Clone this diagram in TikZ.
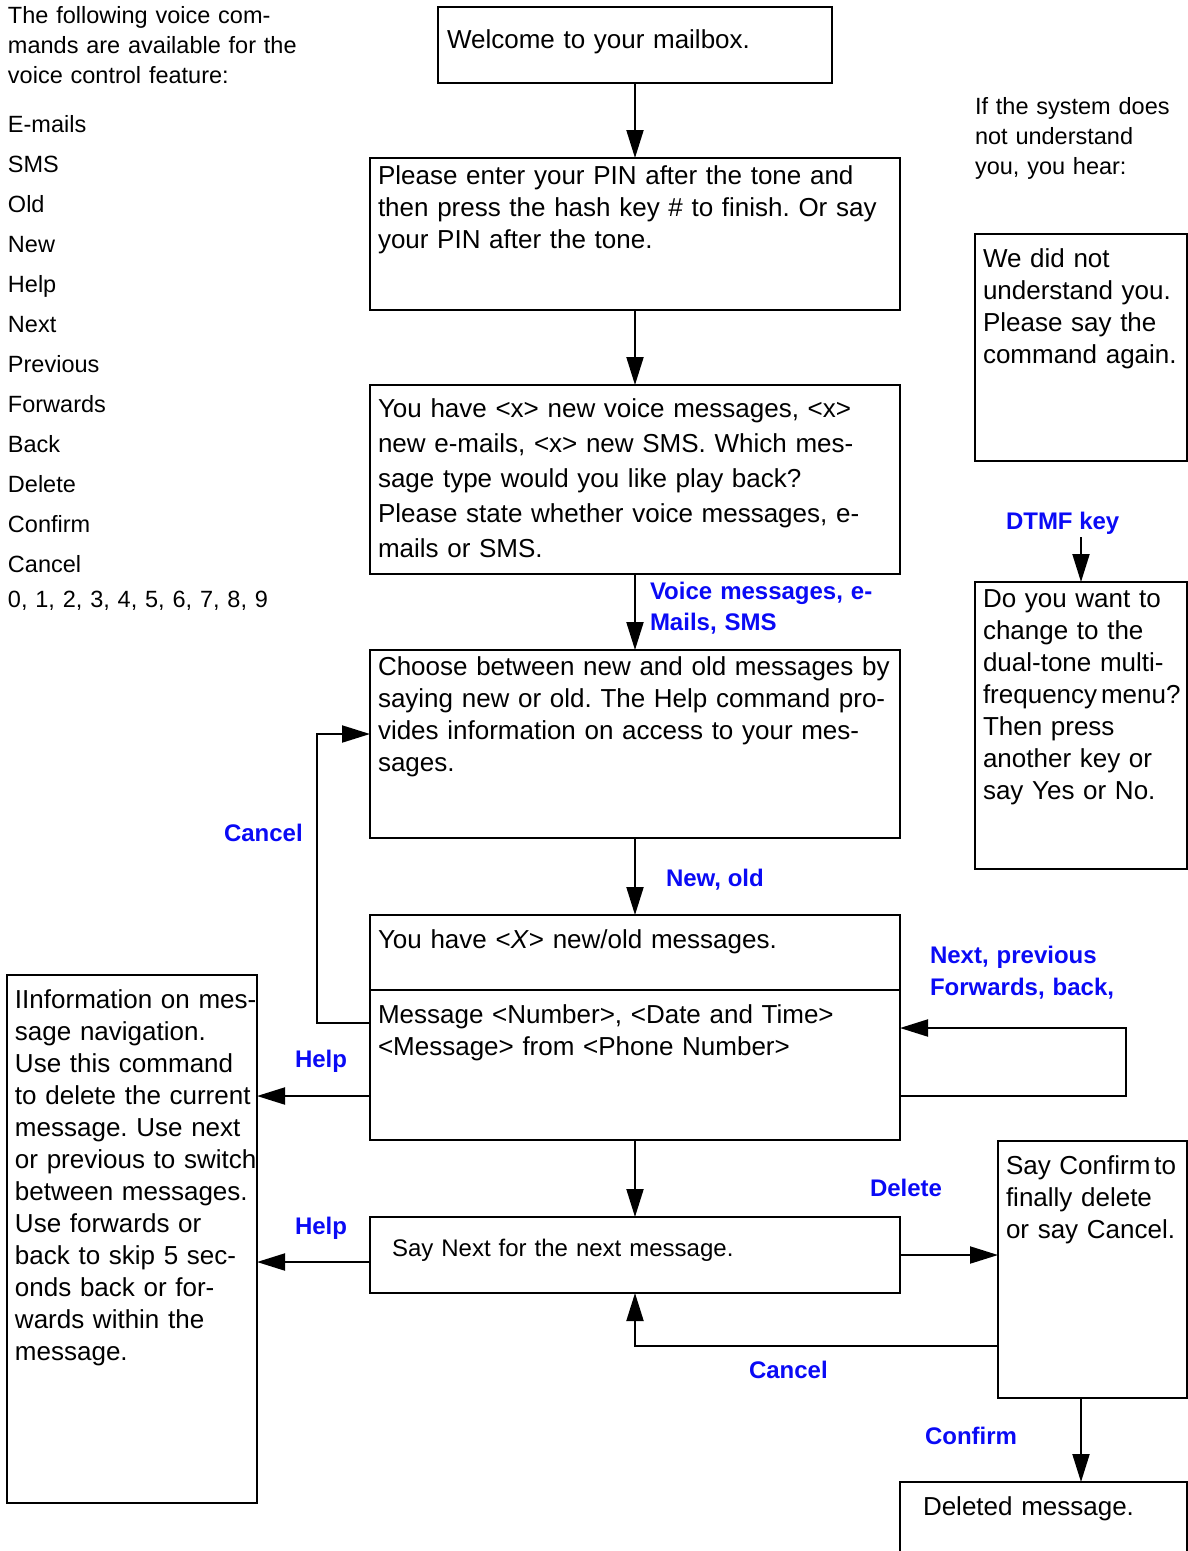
\documentclass[tikz,border=0pt]{standalone}
\usepackage{fontspec}
\setmainfont{Liberation Sans}
\usetikzlibrary{arrows.meta}
\definecolor{lblblue}{RGB}{10,10,245}
\frenchspacing
\begin{document}
\begin{tikzpicture}[x=1pt,y=-1pt,
  box/.style={draw, line width=2pt, inner sep=0pt, outer sep=0pt, anchor=north west},
  txt/.style={anchor=base west, inner sep=0pt, outer sep=0pt, align=left, text width=#1},
  txt/.default=500pt,
  body/.style={font=\fontsize{26}{32}\selectfont},
  lbl/.style={anchor=base west, inner sep=0pt, outer sep=0pt, text=lblblue,
    font=\fontsize{24}{31}\selectfont\bfseries, align=left},
  arr/.style={line width=2pt, -{Triangle[length=28pt,width=17pt]}}
]
\useasboundingbox (0,0) rectangle (1188,1551);

% command list on the left
\node[txt=300pt, font=\fontsize{23.5}{30}\selectfont] (intro) at (8,23)
  {The following voice com-\\mands are available for the\\voice control feature:};
\node[txt=300pt, font=\fontsize{23.5}{40}\selectfont] (cmds) at (8,132)
  {E-mails\\SMS\\Old\\New\\Help\\Next\\Previous\\Forwards\\Back\\Delete\\Confirm\\Cancel\\[-5pt]0, 1, 2, 3, 4, 5, 6, 7, 8, 9};

% note on the right
\node[txt=205pt, font=\fontsize{23.5}{30}\selectfont] (hear) at (975,114)
  {If the system does\\not understand\\you, you hear:};

% main flow boxes
\node[box, minimum width=394pt, minimum height=76pt] (welcome) at (438,7) {};
\node[txt=380pt, body] (welcomet) at (447,48) {Welcome to your mailbox.};

\node[box, minimum width=530pt, minimum height=152pt] (pin) at (370,158) {};
\node[txt=515pt, body] (pint) at (378,184)
  {Please enter your PIN after the tone and\\then press the hash key \# to finish. Or say\\your PIN after the tone.};

\node[box, minimum width=530pt, minimum height=189pt] (have) at (370,385) {};
\node[txt=515pt, font=\fontsize{26}{35}\selectfont] (havet) at (378,417)
  {You have <x> new voice messages, <x>\\new e-mails, <x> new SMS. Which mes-\\sage type would you like play back?\\Please state whether voice messages, e-\\mails or SMS.};

\node[box, minimum width=530pt, minimum height=188pt] (choose) at (370,650) {};
\node[txt=515pt, body] (chooset) at (378,675)
  {Choose between new and old messages by\\saying new or old. The Help command pro-\\vides information on access to your mes-\\sages.};

\node[box, minimum width=530pt, minimum height=75pt] (newtop) at (370,915) {};
\node[txt=515pt, body] (newtopt) at (378,948) {You have <\textit{X}> new/old messages.};

\node[box, minimum width=530pt, minimum height=150pt] (newmsg) at (370,990) {};
\node[txt=515pt, body] (newmsgt) at (378,1023)
  {Message <Number>, <Date and Time>\\<Message> from <Phone Number>};

\node[box, minimum width=530pt, minimum height=76pt] (saynext) at (370,1217) {};
\node[txt=500pt, font=\fontsize{24}{30}\selectfont] (saynextt) at (392,1256) {Say Next for the next message.};

\node[box, minimum width=250pt, minimum height=528pt] (info) at (7,975) {};
\node[txt=242pt, body] (infot) at (15,1008)
  {IInformation on mes-\\sage navigation.\\Use this command\\to delete the current\\message. Use next\\or previous to switch\\between messages.\\Use forwards or\\back to skip 5 sec-\\onds back or for-\\wards within the\\message.};

\node[box, minimum width=212pt, minimum height=227pt] (notund) at (975,234) {};
\node[txt=204pt, body] (notundt) at (983,267)
  {We did not\\understand you.\\Please say the\\command again.};

\node[box, minimum width=212pt, minimum height=287pt] (dtmf) at (975,582) {};
\node[txt=204pt, body] (dtmft) at (983,607)
  {Do you want to\\change to the\\dual-tone multi-\\frequency\hspace{0.15em}menu?\\Then press\\another key or\\say Yes or No.};

\node[box, minimum width=189pt, minimum height=257pt] (confbox) at (998,1141) {};
\node[txt=181pt, body] (confboxt) at (1006,1174)
  {Say Confirm\hspace{0.15em}to\\finally delete\\or say Cancel.};

\node[box, minimum width=287pt, minimum height=74pt] (deleted) at (900,1482) {};
\node[txt=260pt, body] (deletedt) at (923,1515) {Deleted message.};

% connectors
\draw[arr] (welcome.south) -- (pin.north);
\draw[arr] (pin.south) -- (have.north);
\draw[arr] (have.south) -- (choose.north);
\draw[arr] (choose.south) -- (newtop.north);
\draw[arr] (newmsg.south) -- (saynext.north);
\draw[arr] (newmsg.west |- 0,1096) -- (info.east |- 0,1096);
\draw[arr] (saynext.west |- 0,1262) -- (info.east |- 0,1262);
\draw[arr] (saynext.east |- 0,1255) -- (confbox.west |- 0,1255);
\draw[arr] (confbox.west |- 0,1346) -| (saynext.south);
\draw[arr] (1081,0 |- confbox.south) -- (1081,0 |- deleted.north);

\coordinate (cancelturn) at (317,734);
\draw[arr] (newmsg.west |- 0,1023) -| (cancelturn) -- (choose.west |- cancelturn);

\coordinate (nextturn) at (1126,1028);
\draw[arr] (newmsg.east |- 0,1096) -| (nextturn) -- (newmsg.east |- nextturn);

\coordinate (dtmfin) at (1081,537);
\draw[arr] (dtmfin) -- (dtmf.north);

% connector labels
\node[lbl, text width=235pt] (lvoice) at (650,599) {Voice messages, e-\\Mails, SMS};
\node[lbl] (lnewold) at (666,886) {New, old};
\node[lbl] (lcancel1) at (224,841) {Cancel};
\node[lbl] (lhelp1) at (295,1067) {Help};
\node[lbl] (lhelp2) at (295,1234) {Help};
\node[lbl, text width=190pt, font=\fontsize{24}{32}\selectfont\bfseries] (lnext) at (930,963) {Next, previous\\Forwards, back,};
\node[lbl] (ldelete) at (870,1196) {Delete};
\node[lbl] (lcancel2) at (749,1378) {Cancel};
\node[lbl] (lconfirm) at (925,1444) {Confirm};
\node[lbl] (ldtmf) at (1006,529) {DTMF key};
\end{tikzpicture}
\end{document}
